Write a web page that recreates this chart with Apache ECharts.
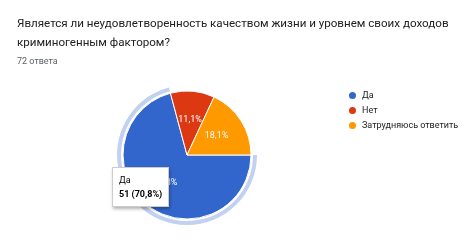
<!DOCTYPE html>
<html>
<head>
<meta charset="utf-8">
<script src="https://cdn.jsdelivr.net/npm/echarts@6/dist/echarts.min.js"></script>
<style>
  html, body { margin: 0; padding: 0; background: #fff; }
  #chart { width: 464px; height: 242px; }
</style>
</head>
<body>
<div id="chart"></div>
<script>
const titleText = 'Является ли неудовлетворенность качеством жизни и уровнем своих доходов\nкриминогенным фактором?';
const subText = '72 ответа';
const categories = ['Да', 'Нет', 'Затрудняюсь ответить'];
const counts = [51, 8, 13];
const colors = ['#3366cc', '#dc3912', '#ff9900'];

const total = counts.reduce((a, b) => a + b, 0);
const pct = v => (v / total * 100).toFixed(1).replace('.', ',') + '%';

const chart = echarts.init(document.getElementById('chart'));

const pieData = categories.map((name, i) => ({
  name: name,
  value: counts[i],
  itemStyle: { color: colors[i] }
}));

chart.setOption({
  animation: false,
  title: {
    text: titleText,
    subtext: subText,
    left: 12,
    top: 10,
    itemGap: 4,
    textStyle: { fontFamily: 'Roboto', fontSize: 11.6, fontWeight: 'normal', color: '#202124', lineHeight: 19 },
    subtextStyle: { fontFamily: 'Roboto', fontSize: 9, color: '#5f6368' }
  },
  legend: {
    orient: 'vertical',
    left: 342,
    top: 85,
    icon: 'circle',
    itemWidth: 9,
    itemHeight: 9,
    itemGap: 4,
    data: categories,
    textStyle: { fontFamily: 'Roboto', fontSize: 9, color: '#222' },
    selectedMode: false
  },
  tooltip: {
    trigger: 'item',
    alwaysShowContent: true,
    position: [112, 167],
    padding: [5, 6],
    backgroundColor: '#fff',
    borderColor: '#ccc',
    borderWidth: 1,
    extraCssText: 'box-shadow: 1px 2px 3px rgba(0,0,0,0.3); border-radius: 0;',
    textStyle: { fontFamily: 'Roboto', fontSize: 9, color: '#000' },
    formatter: p => p.name + '<br/><b>' + p.value + ' (' + pct(p.value) + ')</b>'
  },
  series: [
    {
      type: 'pie',
      center: [187, 155],
      radius: [0, 64],
      startAngle: 0,
      clockwise: true,
      data: pieData,
      itemStyle: { borderColor: '#fff', borderWidth: 1 },
      label: {
        position: 'inside',
        formatter: p => pct(p.value),
        color: '#fff',
        fontFamily: 'Roboto',
        fontSize: 9
      },
      labelLine: { show: false },
      emphasis: { disabled: true }
    },
    {
      type: 'pie',
      silent: true,
      center: [187, 155],
      radius: [66, 70],
      startAngle: 0,
      clockwise: true,
      tooltip: { show: false },
      data: categories.map((name, i) => ({
        name: name,
        value: counts[i],
        itemStyle: { color: i === 0 ? '#c2d1f0' : 'rgba(0,0,0,0)' }
      })),
      label: { show: false },
      labelLine: { show: false },
      emphasis: { disabled: true }
    }
  ]
});

chart.dispatchAction({ type: 'showTip', seriesIndex: 0, dataIndex: 0 });
</script>
</body>
</html>
